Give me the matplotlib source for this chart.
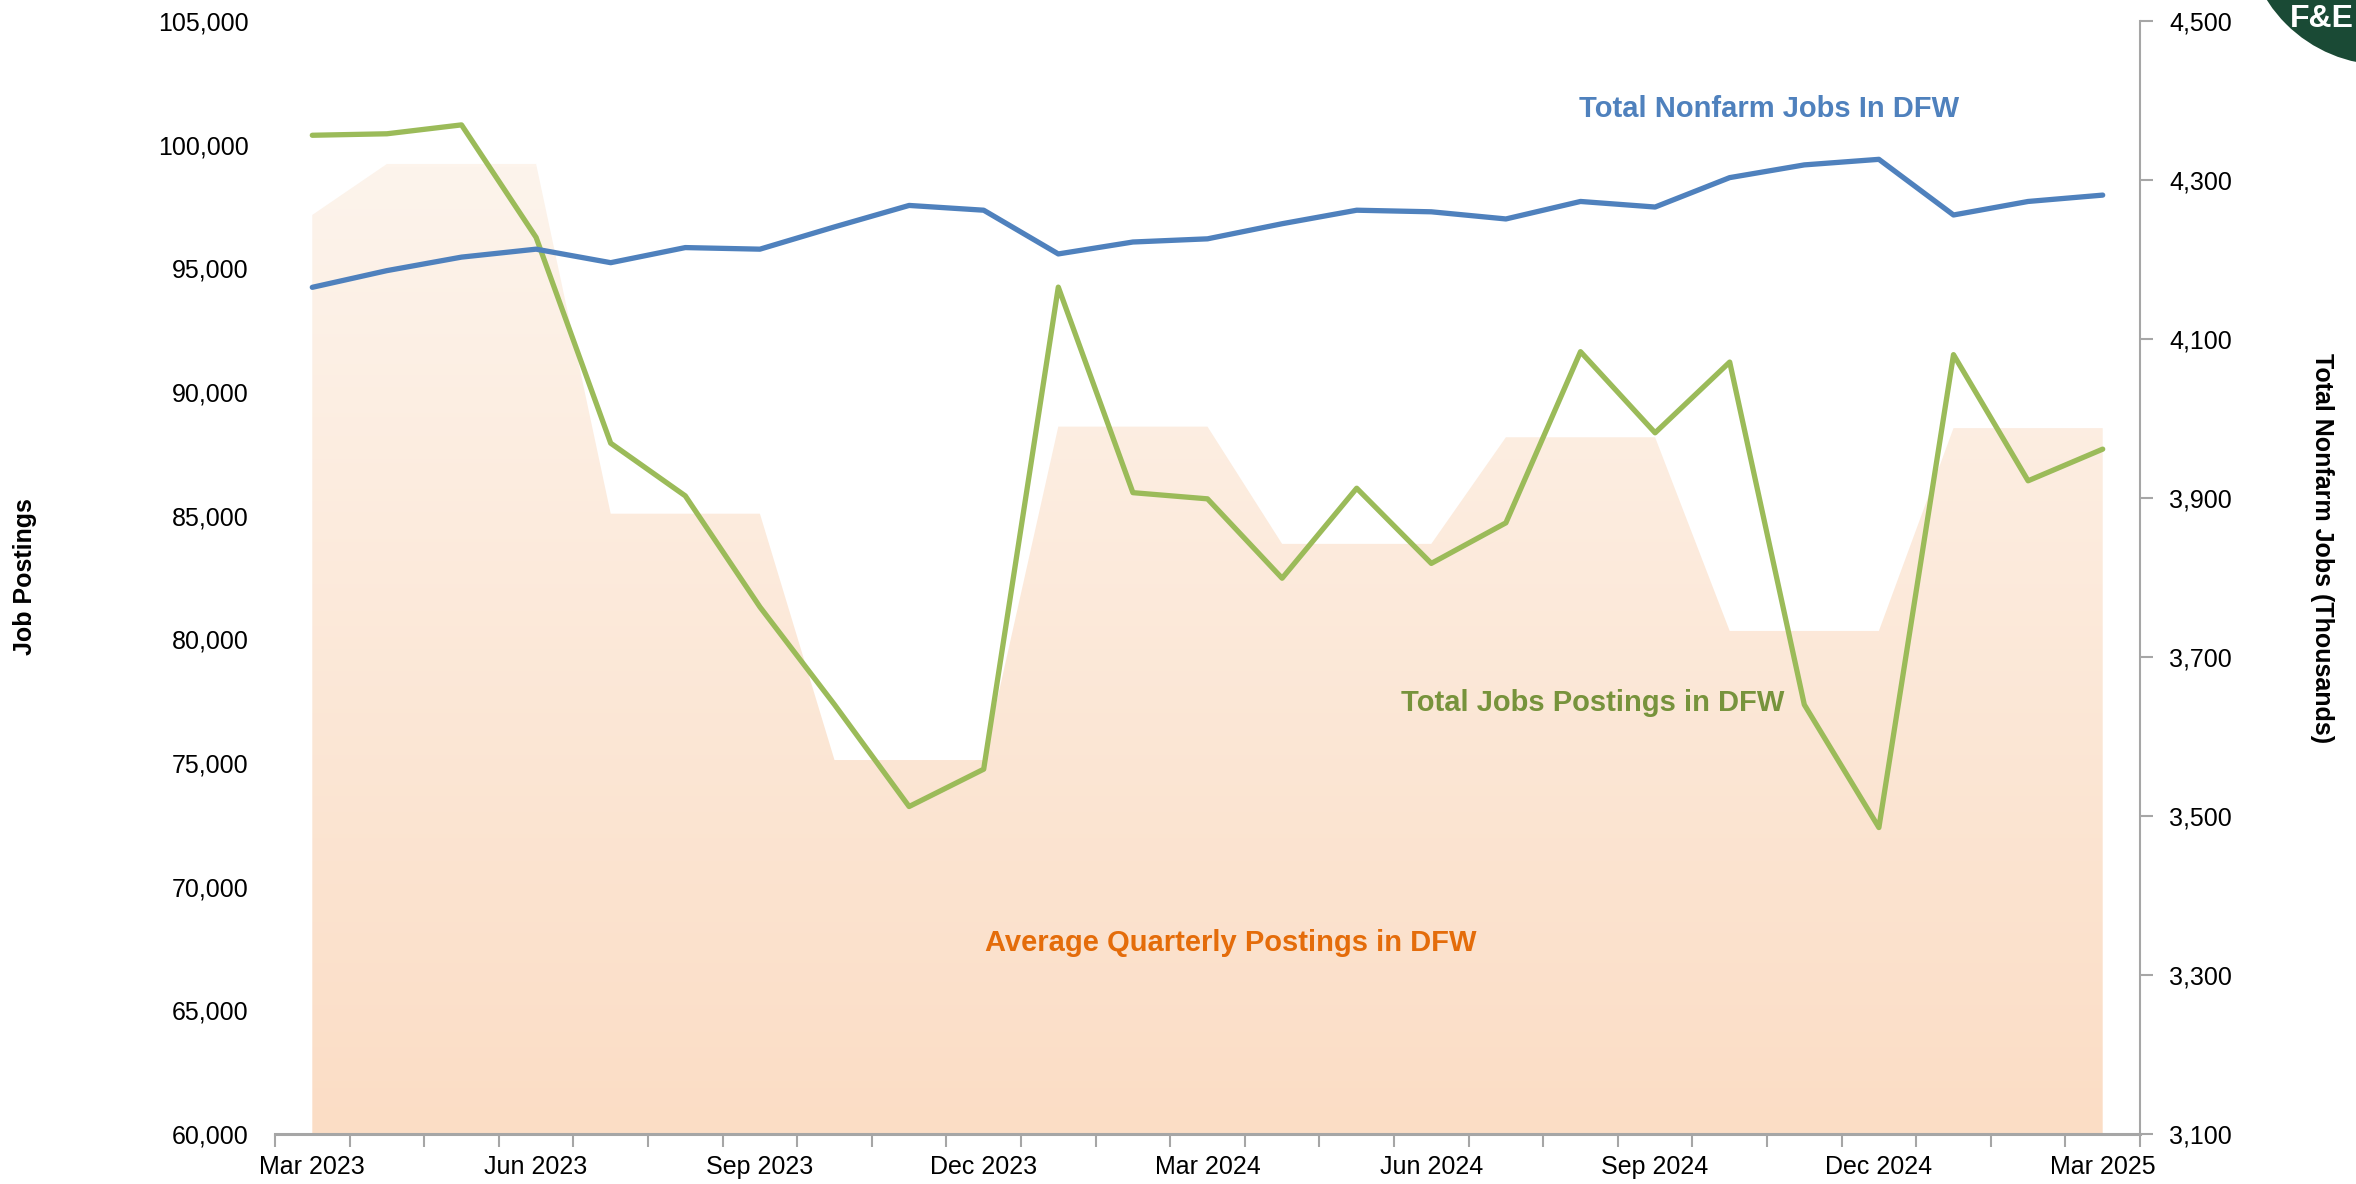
import numpy as np
import matplotlib.pyplot as plt
from matplotlib.patches import Ellipse
from matplotlib.colors import LinearSegmentedColormap
from matplotlib.ticker import FuncFormatter

plt.rcParams['font.family'] = ['Liberation Sans', 'DejaVu Sans']

meses = ['Mar 2023', 'Apr 2023', 'May 2023', 'Jun 2023', 'Jul 2023', 'Aug 2023',
         'Sep 2023', 'Oct 2023', 'Nov 2023', 'Dec 2023', 'Jan 2024', 'Feb 2024',
         'Mar 2024', 'Apr 2024', 'May 2024', 'Jun 2024', 'Jul 2024', 'Aug 2024',
         'Sep 2024', 'Oct 2024', 'Nov 2024', 'Dec 2024', 'Jan 2025', 'Feb 2025',
         'Mar 2025']

# monthly job postings (left axis)
postings = [100380, 100440, 100800, 96250, 87930, 85800, 81310, 77360, 73240,
            74750, 94240, 85930, 85680, 82470, 86110, 83070, 84710, 91630,
            88350, 91210, 77360, 72390, 91510, 86410, 87690]

# average quarterly postings (area)
media_trim = [97160, 99220, 99220, 99220, 85080, 85080, 85080, 75120, 75120,
              75120, 88600, 88600, 88600, 83860, 83860, 83860, 88170, 88170,
              88170, 80340, 80340, 80340, 88540, 88540, 88540]

# total nonfarm jobs, thousands (right axis)
nonfarm = [4165, 4186, 4203, 4213, 4196, 4215, 4213, 4241, 4268, 4262, 4207,
           4222, 4226, 4245, 4262, 4260, 4251, 4273, 4266, 4303, 4319, 4326,
           4256, 4273, 4281]

x = np.arange(len(meses))
W, H = 2356, 1184

fig = plt.figure(figsize=(W / 100, H / 100), dpi=100)
ax = fig.add_axes([275 / W, 1 - 1134 / H, (2140 - 275) / W, (1134 - 21) / H])
ax2 = ax.twinx()

ymin, ymax = 60000, 105000
ax.set_xlim(-0.5, len(meses) - 0.5)
ax.set_ylim(ymin, ymax)

# area with vertical gradient
area = ax.fill_between(x, ymin, media_trim, facecolor='none', edgecolor='none', zorder=1)
cmap = LinearSegmentedColormap.from_list('pessego', ['#FBDDC5', '#FDF4EC'])
grad = np.linspace(0, 1, 256).reshape(-1, 1)
img = ax.imshow(grad, cmap=cmap, aspect='auto', origin='lower',
                extent=(0, len(meses) - 1, ymin, max(media_trim)), zorder=1)
img.set_clip_path(area.get_paths()[0], transform=ax.transData)

ax.plot(x, postings, color='#9BBB59', lw=3.8, zorder=3, solid_capstyle='round')

ax2.set_ylim(3100, 4500)
ax2.plot(x, nonfarm, color='#4F81BD', lw=3.8, zorder=3, solid_capstyle='round')
ax.set_xlim(-0.5, len(meses) - 0.5)

fmt = FuncFormatter(lambda v, p: '{:,.0f}'.format(v))
ax.set_yticks(np.arange(60000, 105001, 5000))
ax.yaxis.set_major_formatter(fmt)
ax2.set_yticks(np.arange(3100, 4501, 200))
ax2.yaxis.set_major_formatter(fmt)

ax.set_xticks(x[::3])
ax.set_xticklabels(meses[::3])
ax.set_xticks(np.arange(-0.5, len(meses)), minor=True)
ax.tick_params(axis='x', which='major', length=0, pad=15, labelsize=18)
ax.tick_params(axis='x', which='minor', length=9, width=1.5, color='#A6A6A6')
ax.tick_params(axis='y', length=0, pad=19, labelsize=18)
ax2.tick_params(axis='y', length=9, width=1.5, color='#A6A6A6', pad=12, labelsize=18)

for a in (ax, ax2):
    for s in a.spines.values():
        s.set_visible(False)
ax.spines['bottom'].set_visible(True)
ax.spines['bottom'].set_color('#A6A6A6')
ax.spines['bottom'].set_linewidth(2.2)
ax2.spines['right'].set_visible(True)
ax2.spines['right'].set_color('#A6A6A6')
ax2.spines['right'].set_linewidth(1.5)

fig.text(25 / W, 1 - 577 / H, 'Job Postings', rotation=90, ha='center', va='center',
         fontsize=18, fontweight='bold')
fig.text(2322 / W, 1 - 548 / H, 'Total Nonfarm Jobs (Thousands)', rotation=270,
         ha='center', va='center', fontsize=18, fontweight='bold')

# series labels
fig.text(1769 / W, 1 - 109 / H, 'Total Nonfarm Jobs In DFW', color='#4F81BD',
         ha='center', va='center', fontsize=21, fontweight='bold')
fig.text(1593 / W, 1 - 703 / H, 'Total Jobs Postings in DFW', color='#77933C',
         ha='center', va='center', fontsize=21, fontweight='bold')
fig.text(1231 / W, 1 - 943 / H, 'Average Quarterly Postings in DFW', color='#E46C0A',
         ha='center', va='center', fontsize=21, fontweight='bold')

# logo no canto
fig.add_artist(Ellipse((2385 / W, 1 + 75 / H), 280 / W, 280 / H,
                       transform=fig.transFigure, facecolor='#1A4A35', edgecolor='none'))
fig.text(2290 / W, 1 - 27 / H, 'F&E', color='white', fontsize=23,
         fontweight='bold', ha='left', va='baseline')

plt.savefig('out.png', dpi=100)
